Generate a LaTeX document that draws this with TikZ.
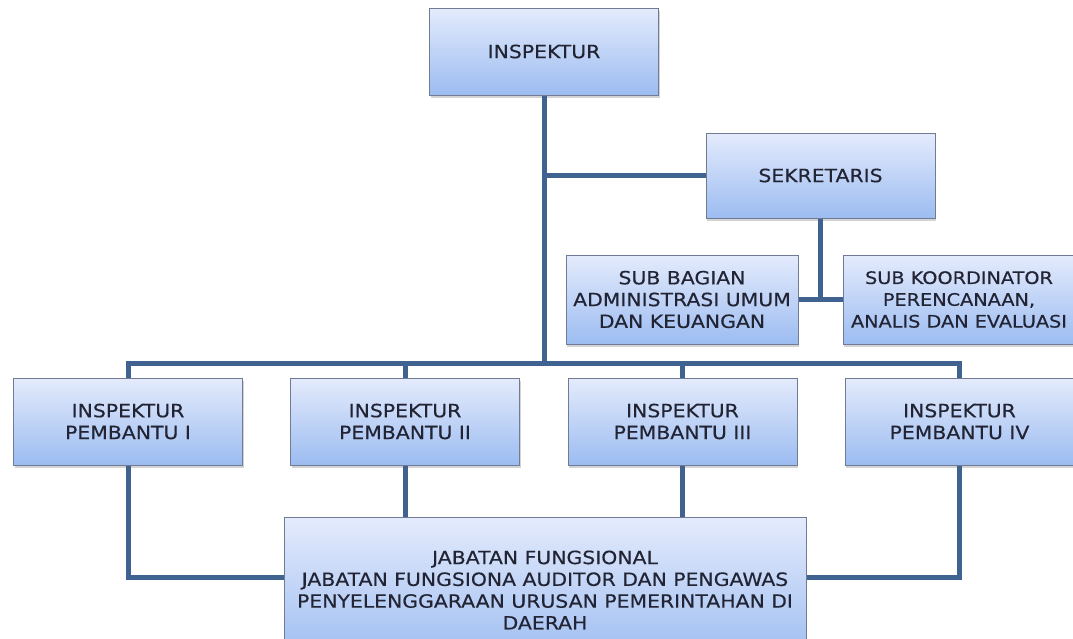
\documentclass[tikz,border=0pt]{standalone}
\usepackage{fontspec}
\usepackage{tikz}
\usepackage{xcolor}
\usetikzlibrary{shadows}
\newfontfamily\orgfont[FakeStretch=1.12, FakeBold=0.4]{DejaVu Sans}
\definecolor{boxtop}{RGB}{228,235,252}
\definecolor{boxbottom}{RGB}{156,188,241}
\definecolor{boxline}{RGB}{112,124,150}
\definecolor{linkblue}{RGB}{64,98,144}
\definecolor{boxtext}{RGB}{34,36,52}

\begin{document}
\begin{tikzpicture}[
    x=1pt, y=-1pt,
    unit/.style={draw=boxline, line width=1pt, top color=boxtop, bottom color=boxbottom,
      minimum width=229pt, minimum height=87pt, inner xsep=0pt, align=center,
      text=boxtext, font=\orgfont\fontsize{18.2}{21.8}\selectfont,
      drop shadow={opacity=0.35, shadow xshift=1pt, shadow yshift=-3pt}},
    link/.style={draw=linkblue, line width=5pt},
  ]
  \useasboundingbox (0,0) rectangle (1073,638);

  \node[unit] (inspektur) at (544,51.5) {INSPEKTUR};
  \node[unit, minimum height=85pt] (sekretaris) at (820.5,175.5) {SEKRETARIS};
  \node[unit, minimum width=232pt, minimum height=89pt] (subbag) at (682,299.5)
    {SUB BAGIAN\\ADMINISTRASI UMUM\\DAN KEUANGAN};
  \node[unit, minimum width=232pt, minimum height=89pt,
    font=\orgfont\fontsize{17.2}{21.8}\selectfont] (subkoor) at (959,299.5)
    {SUB KOORDINATOR\\PERENCANAAN,\\ANALIS DAN EVALUASI};

  \node[unit] (ip1) at (128,421.5) {INSPEKTUR\\PEMBANTU I};
  \node[unit] (ip2) at (405,421.5) {INSPEKTUR\\PEMBANTU II};
  \node[unit] (ip3) at (682.5,421.5) {INSPEKTUR\\PEMBANTU III};
  \node[unit] (ip4) at (959.5,421.5) {INSPEKTUR\\PEMBANTU IV};

  \node[unit, minimum width=522pt, minimum height=146pt] (jf) at (545,590)
    {JABATAN FUNGSIONAL\\JABATAN FUNGSIONA AUDITOR DAN PENGAWAS\\
     PENYELENGGARAAN URUSAN PEMERINTAHAN DI\\DAERAH};

  \coordinate (hub) at (544,363);

  \draw[link] (inspektur.south) -- (hub);
  \draw[link] (inspektur.south |- sekretaris.west) -- (sekretaris.west);
  \draw[link] (sekretaris.south) -- (sekretaris.south |- subbag.east);
  \draw[link] (subbag.east) -- (subkoor.west);
  \draw[link] (ip1.north) |- (hub) -| (ip4.north);
  \draw[link] (ip2.north) -- (ip2.north |- hub);
  \draw[link] (ip3.north) -- (ip3.north |- hub);
  \draw[link] (ip1.south) |- ([yshift=13pt]jf.west);
  \draw[link] (ip4.south) |- ([yshift=13pt]jf.east);
  \draw[link] (ip2.south) -- (ip2.south |- jf.north);
  \draw[link] (ip3.south) -- (ip3.south |- jf.north);
\end{tikzpicture}
\end{document}
